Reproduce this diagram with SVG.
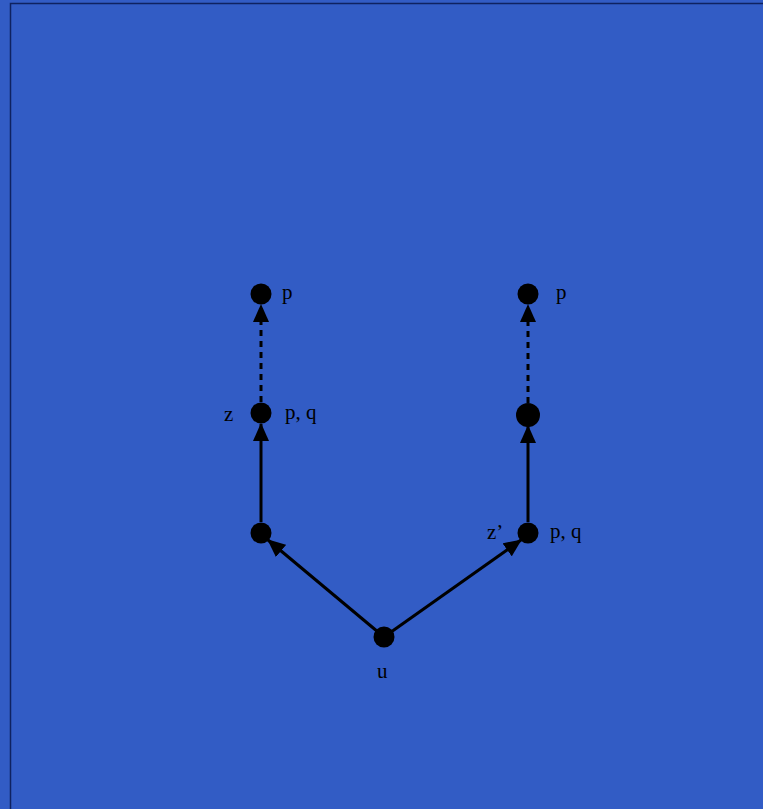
<svg xmlns="http://www.w3.org/2000/svg" width="763" height="809" viewBox="0 0 763 809">
<style>
.n{fill:#000}
.e{stroke:#000;stroke-width:3;fill:none}
.d{stroke-dasharray:6,5}
.t{font-family:"Liberation Serif","DejaVu Serif",serif;font-size:21px;fill:#000}
</style>
<defs>
<marker id="a" markerWidth="18" markerHeight="16" refX="17" refY="8" orient="auto" markerUnits="userSpaceOnUse">
<path d="M0,0 L18,8 L0,16 Z" fill="#000"/>
</marker>
</defs>
<rect x="0" y="0" width="763" height="809" fill="#325CC5"/>
<rect x="10.5" y="3.5" width="760" height="810" fill="#325CC5" stroke="#0f2260" stroke-width="1.5"/>
<g id="edges">
<line class="e" x1="261" y1="522" x2="261" y2="424" marker-end="url(#a)"/>
<line class="e d" x1="261" y1="402" x2="261" y2="305" marker-end="url(#a)"/>
<line class="e" x1="528" y1="522" x2="528" y2="426" marker-end="url(#a)"/>
<line class="e d" x1="528" y1="403" x2="528" y2="305" marker-end="url(#a)"/>
<line class="e" x1="384" y1="637" x2="268" y2="540" marker-end="url(#a)"/>
<line class="e" x1="384" y1="637" x2="521" y2="540" marker-end="url(#a)"/>
</g>
<g id="n1"><circle class="n" cx="261" cy="294" r="10.5"/><text class="t" x="282" y="299">p</text></g>
<g id="n2"><circle class="n" cx="261" cy="413" r="10.5"/><text class="t" x="224" y="421">z</text><text class="t" x="285" y="419">p, q</text></g>
<g id="n3"><circle class="n" cx="261" cy="533" r="10.5"/></g>
<g id="n4"><circle class="n" cx="528" cy="294" r="10.5"/><text class="t" x="556" y="299">p</text></g>
<g id="n5"><circle class="n" cx="528" cy="415" r="12"/></g>
<g id="n6"><circle class="n" cx="528" cy="533" r="10.5"/><text class="t" x="487" y="539">z’</text><text class="t" x="550" y="538">p, q</text></g>
<g id="n7"><circle class="n" cx="384" cy="637" r="10.5"/><text class="t" x="377" y="678">u</text></g>
</svg>
